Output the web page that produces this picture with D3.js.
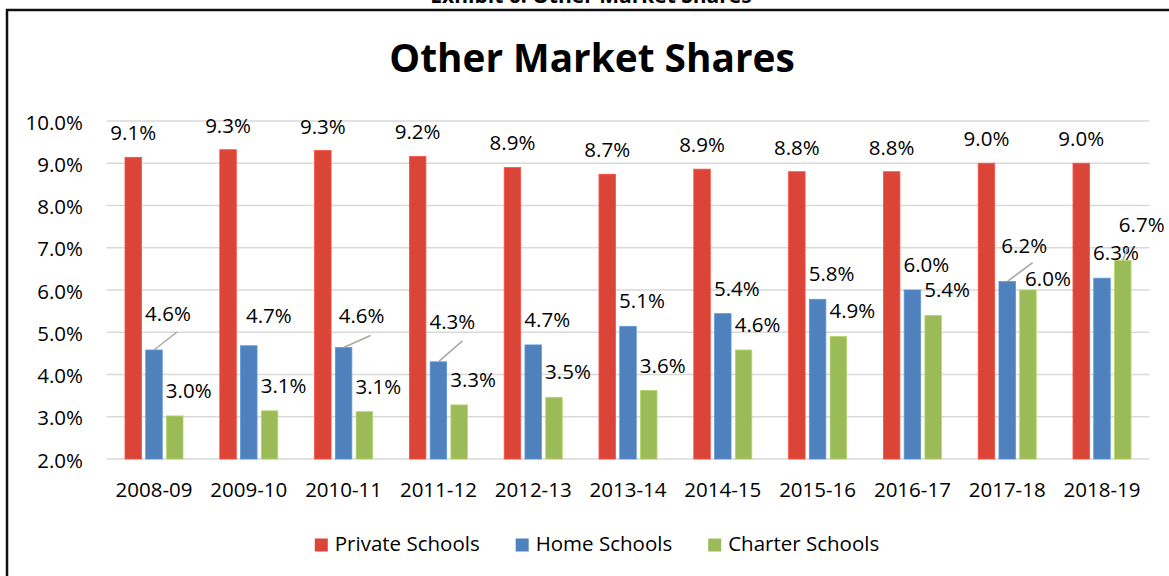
<!DOCTYPE html>
<html>
<head>
<meta charset="utf-8">
<script src="https://cdn.jsdelivr.net/npm/d3@7"></script>
<style>
  html, body { margin: 0; padding: 0; background: #fff; }
  svg { display: block; }
  text { font-family: "Open Sans", "Liberation Sans", sans-serif; fill: #000; }
</style>
</head>
<body>
<svg id="chart" width="1169" height="576"></svg>
<script>
// ---------- data ----------
const categories = ["2008-09","2009-10","2010-11","2011-12","2012-13","2013-14","2014-15","2015-16","2016-17","2017-18","2018-19"];
const seriesNames = ["Private Schools","Home Schools","Charter Schools"];
const privateSchools = [9.14, 9.32, 9.30, 9.16, 8.90, 8.74, 8.86, 8.80, 8.80, 9.00, 9.00];
const homeSchools    = [4.58, 4.68, 4.64, 4.30, 4.70, 5.14, 5.44, 5.78, 6.00, 6.20, 6.28];
const charterSchools = [3.02, 3.14, 3.12, 3.28, 3.46, 3.62, 4.58, 4.90, 5.40, 6.00, 6.70];
const yTicks = [2, 3, 4, 5, 6, 7, 8, 9, 10];
const chartTitle = "Other Market Shares";
const exhibitTitle = "Exhibit 6: Other Market Shares";

// ---------- styling / layout ----------
const colors = {"Private Schools": "#DA4538", "Home Schools": "#4F81BD", "Charter Schools": "#9BBB59"};
const plot = {left: 106.6, right: 1149.4, top: 121, bottom: 459};
const fontSize = 20.5;
// label nudges: [dx from bar centre, dy of baseline from bar top, leader line?, leader end dx, leader end dy]
const labelDefault = {"Private Schools": [0, -17], "Home Schools": [14, -18], "Charter Schools": [14, -18]};
const labelOverride = {
  "Home Schools": {0: [14, -29, true, 9, 11], 1: [20, -23], 2: [18, -24, true, 9, 12], 3: [14, -33, true, 10, 12], 9: [17, -29, true, 8.5, 10]},
  "Charter Schools": {9: [20, -4], 10: [19, -28, true, -14, 15]}
};

const svg = d3.select("#chart");
svg.append("rect").attr("width", 1169).attr("height", 576).attr("fill", "#fff");

// outer frame
svg.append("rect").attr("x", 7).attr("y", 10).attr("width", 1200).attr("height", 700)
  .attr("fill", "none").attr("stroke", "#111").attr("stroke-width", 2.5);

// exhibit header (cut off at the top, as in the original)
svg.append("text").attr("x", 591).attr("y", 3).attr("text-anchor", "middle")
  .attr("font-weight", 700).attr("font-size", 21).text(exhibitTitle);

// title
svg.append("text").attr("x", 592).attr("y", 72).attr("text-anchor", "middle")
  .attr("font-weight", 700).attr("font-size", 38.8).text(chartTitle);

const x0 = d3.scaleBand().domain(categories).range([plot.left, plot.right]);
const bw = x0.bandwidth();
const x1 = d3.scaleBand().domain(seriesNames).range([bw * 0.194, bw * 0.806]).paddingInner(0.205);
const y = d3.scaleLinear().domain([2, 10]).range([plot.bottom, plot.top]);

// gridlines
svg.append("g").selectAll("line").data(yTicks).join("line")
  .attr("x1", plot.left).attr("x2", plot.right)
  .attr("y1", d => y(d)).attr("y2", d => y(d))
  .attr("stroke", "#d9d9d9").attr("stroke-width", 1.4);

// y axis labels
const yAxis = d3.axisLeft(y).tickValues(yTicks).tickFormat(d => d.toFixed(1) + "%").tickSize(0).tickPadding(0);
const yg = svg.append("g").attr("transform", "translate(83,0)").call(yAxis);
yg.select(".domain").remove();
yg.selectAll("text").attr("font-size", fontSize).attr("font-family", "Open Sans").attr("fill", "#000").attr("dy", "0.4em");

// x axis labels
const xAxis = d3.axisBottom(x0).tickSize(0).tickPadding(0);
const xg = svg.append("g").attr("transform", "translate(0,497)").call(xAxis);
xg.select(".domain").remove();
xg.selectAll("text").attr("font-size", fontSize).attr("font-family", "Open Sans").attr("fill", "#000").attr("dy", 0);

const seriesData = {"Private Schools": privateSchools, "Home Schools": homeSchools, "Charter Schools": charterSchools};

seriesNames.forEach(name => {
  const vals = seriesData[name];
  const rows = categories.map((c, i) => ({c, i, v: vals[i]}));
  const g = svg.append("g");
  g.selectAll("rect").data(rows).join("rect")
    .attr("x", d => x0(d.c) + x1(name))
    .attr("width", x1.bandwidth())
    .attr("y", d => y(d.v))
    .attr("height", d => y(2) - y(d.v))
    .attr("fill", colors[name])
    .attr("stroke", d3.color(colors[name]).brighter(0.4))
    .attr("stroke-width", 0.8);

  rows.forEach(d => {
    const bx = x0(d.c) + x1(name) + x1.bandwidth() / 2;
    const top = y(d.v);
    const o = (labelOverride[name] && labelOverride[name][d.i]) || labelDefault[name];
    const lx = bx + o[0], ly = top + o[1];
    if (o[2]) {
      g.append("line").attr("x1", bx).attr("y1", top)
        .attr("x2", lx + o[3]).attr("y2", ly + o[4])
        .attr("stroke", "#a6a6a6").attr("stroke-width", 1.5);
    }
    g.append("text").attr("x", lx).attr("y", ly).attr("text-anchor", "middle")
      .attr("font-size", fontSize).text(d.v.toFixed(1) + "%");
  });
});

// legend
const legend = svg.append("g");
const items = seriesNames.map(n => {
  const t = legend.append("text").attr("font-size", fontSize).attr("y", 551).text(n);
  return {n, t, w: t.node().getComputedTextLength()};
});
const sq = 13, sqGap = 7, itemGap = 36;
const total = d3.sum(items, d => sq + sqGap + d.w) + itemGap * (items.length - 1);
let cx = 597 - total / 2;
items.forEach(it => {
  legend.append("rect").attr("x", cx).attr("y", 538.5).attr("width", sq).attr("height", sq).attr("fill", colors[it.n]);
  it.t.attr("x", cx + sq + sqGap);
  cx += sq + sqGap + it.w + itemGap;
});
</script>
</body>
</html>
